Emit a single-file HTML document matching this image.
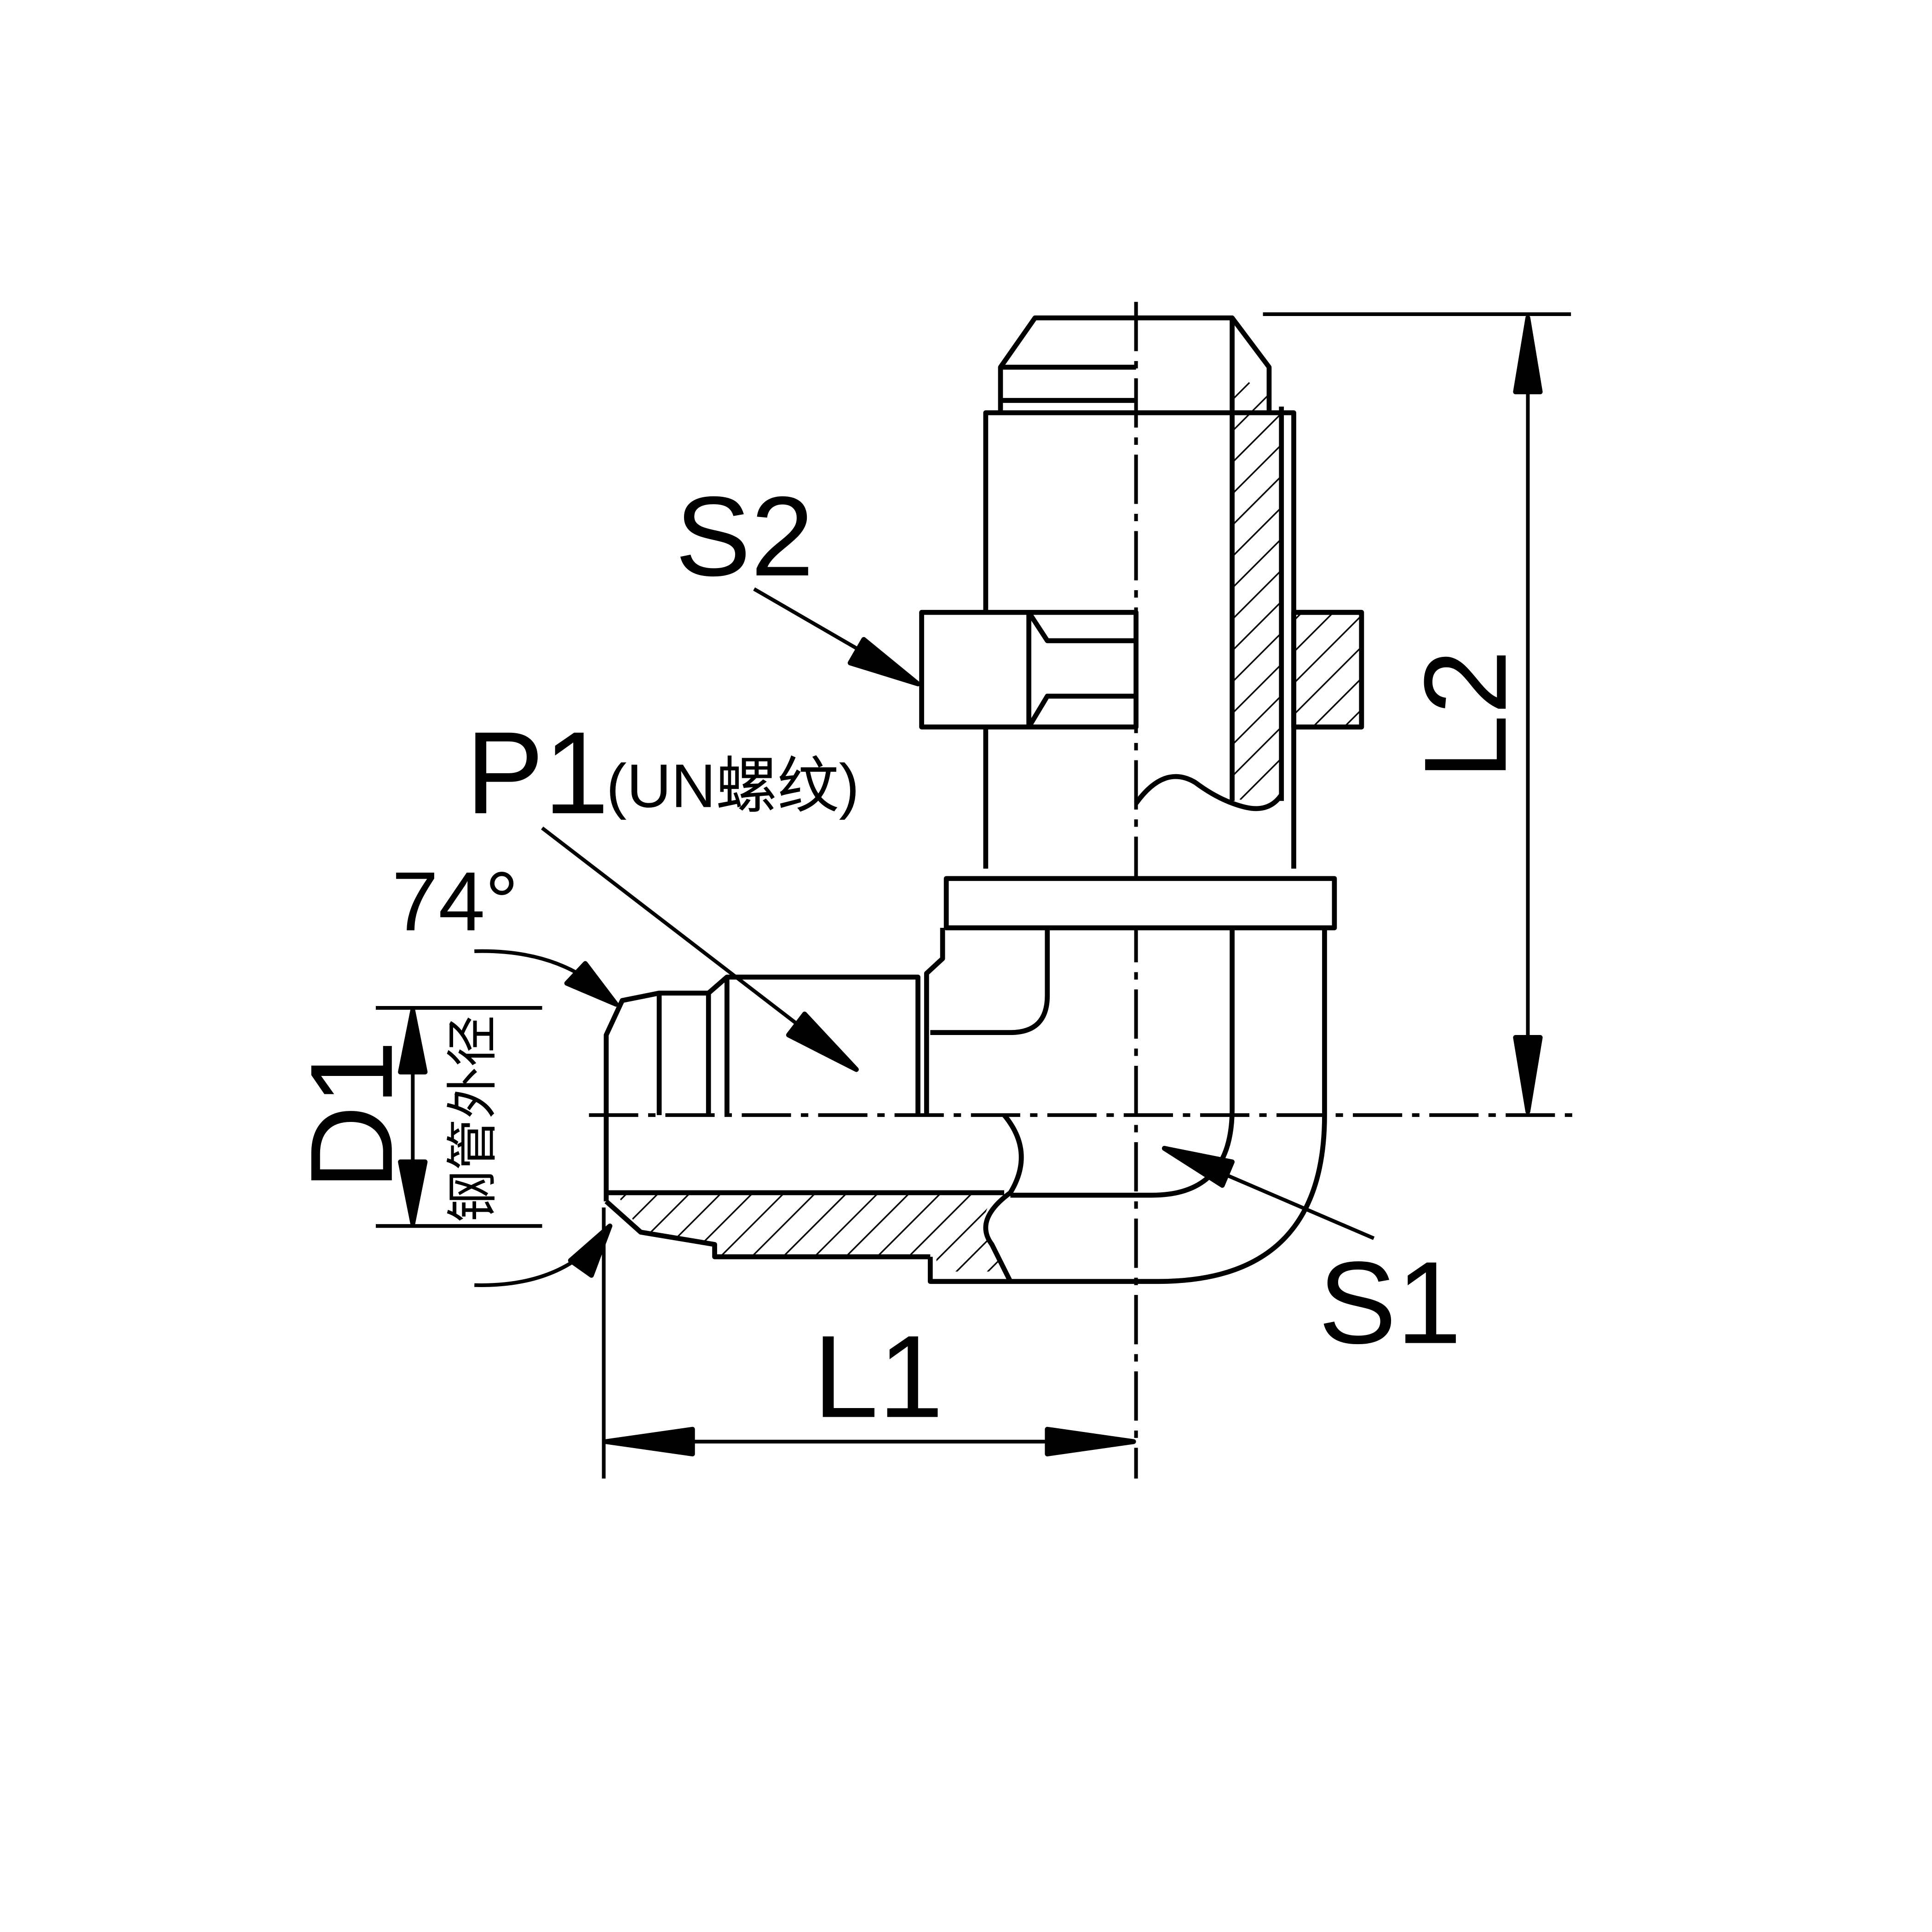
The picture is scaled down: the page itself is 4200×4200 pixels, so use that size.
<!DOCTYPE html>
<html><head><meta charset="utf-8"><style>html,body{margin:0;padding:0;background:#fff}svg{display:block}</style></head>
<body>
<svg width="4200" height="4200" viewBox="0 0 1568 1568" xmlns="http://www.w3.org/2000/svg">
<defs>
<pattern id="h" width="18" height="18" patternUnits="userSpaceOnUse" patternTransform="rotate(45)">
<line x1="0" y1="0" x2="0" y2="18" stroke="#000" stroke-width="2.5"/></pattern>
</defs>
<g fill="none" stroke="#000" stroke-width="4" stroke-linejoin="round">
<line x1="922" y1="245" x2="922" y2="1200" stroke-dasharray="40,8,6,8" stroke-width="3"/>
<line x1="478" y1="905" x2="1278" y2="905" stroke-dasharray="40,8,6,8" stroke-width="3"/>
<path d="M1000 300 L1040 330 L1040 640 Q1020 660 1000 645 Z" fill="url(#h)" stroke="none"/>
<rect x="1050" y="497" width="55" height="93" fill="url(#h)"/>
<path d="M500 968 L810 968 Q790 990 805 1010 L820 1032 L760 1032 L760 1020 L580 1020 L580 1010 L520 1000 Z" fill="url(#h)" stroke="none"/>
<path d="M812 335 L812 298 L840 258 L1000 258 L1030 298 L1030 335"/>
<line x1="812" y1="298" x2="922" y2="298"/>
<line x1="812" y1="325" x2="922" y2="325"/>
<path d="M800 705 L800 335 L1050 335 L1050 705"/>
<line x1="1000" y1="258" x2="1000" y2="650"/>
<line x1="1040" y1="330" x2="1040" y2="650"/>
<path d="M922 652 Q945 620 970 635 Q990 650 1010 655 Q1030 660 1040 645"/>
<rect x="748" y="497" width="174" height="93" fill="#fff"/>
<line x1="835" y1="497" x2="835" y2="590"/>
<path d="M835 497 L850 520 L922 520 M835 590 L850 565 L922 565"/>
<rect x="1050" y="497" width="55" height="93"/>
<rect x="768" y="713" width="315" height="40" fill="#fff"/>
<path d="M765 753 L765 778 L752 790 L752 905"/>
<path d="M755 838 L820 838 Q850 838 850 808 L850 753"/>
<path d="M1075 753 L1075 905 Q1075 1040 940 1040 L755 1040 L755 1020"/>
<path d="M1000 753 L1000 900 Q1000 970 935 970 L820 970"/>
<path d="M492 975 L492 840 L505 812 L535 806 L575 806 L575 905"/>
<line x1="535" y1="806" x2="535" y2="905"/>
<path d="M575 806 L590 793 L745 793 L745 905"/>
<line x1="590" y1="793" x2="590" y2="905"/>
<line x1="492" y1="968" x2="815" y2="968"/>
<path d="M492 975 L520 1000 L580 1010 L580 1020 L755 1020"/>
<path d="M815 905 Q840 935 820 968 Q790 990 805 1010 L820 1040"/>
<line x1="1025" y1="255" x2="1275" y2="255" stroke-width="3"/>
<line x1="1240" y1="258" x2="1240" y2="902" stroke-width="3"/>
<path d="M1240 258 L1230 318 L1250 318 Z M1240 902 L1230 842 L1250 842 Z" fill="#000"/>
<line x1="490" y1="980" x2="490" y2="1200" stroke-width="3"/>
<line x1="492" y1="1170" x2="920" y2="1170" stroke-width="3"/>
<path d="M492 1170 L562 1160 L562 1180 Z M920 1170 L850 1160 L850 1180 Z" fill="#000"/>
<line x1="305" y1="818" x2="440" y2="818" stroke-width="3"/>
<line x1="305" y1="995" x2="440" y2="995" stroke-width="3"/>
<line x1="335" y1="820" x2="335" y2="993" stroke-width="3"/>
<path d="M335 820 L325 870 L345 870 Z M335 993 L325 943 L345 943 Z" fill="#000"/>
<path d="M385 772 Q460 770 500 815" stroke-width="3"/>
<path d="M500 815 L460 798 L475 782 Z" fill="#000"/>
<path d="M385 1043 Q460 1045 495 995" stroke-width="3"/>
<path d="M495 995 L480 1035 L463 1023 Z" fill="#000"/>
<line x1="440" y1="672" x2="695" y2="868" stroke-width="3"/>
<path d="M695 868 L640 840 L653 823 Z" fill="#000"/>
<line x1="612" y1="478" x2="745" y2="555" stroke-width="3"/>
<path d="M745 555 L690 538 L701 519 Z" fill="#000"/>
<line x1="1115" y1="1005" x2="945" y2="932" stroke-width="3"/>
<path d="M945 932 L1000 943 L992 962 Z" fill="#000"/>
</g>
<g font-family="Liberation Sans, Noto Sans CJK SC, sans-serif" fill="#000">
<text x="548" y="467" font-size="92">S2</text>
<text x="378" y="660" font-size="95">P1</text>
<text x="492" y="655" font-size="50">(UN螺纹)</text>
<text x="318" y="755" font-size="68">74°</text>
<text x="660" y="1150" font-size="95">L1</text>
<text x="1070" y="1090" font-size="95">S1</text>
<text transform="translate(1222 580) rotate(-90)" text-anchor="middle" font-size="95">L2</text>
<text transform="translate(318 905) rotate(-90)" text-anchor="middle" font-size="95">D1</text>
<text transform="translate(398 908) rotate(-90)" text-anchor="middle" font-size="42" font-family="Noto Sans CJK SC, sans-serif">钢管外径</text>
</g>
</svg>
</body></html>
